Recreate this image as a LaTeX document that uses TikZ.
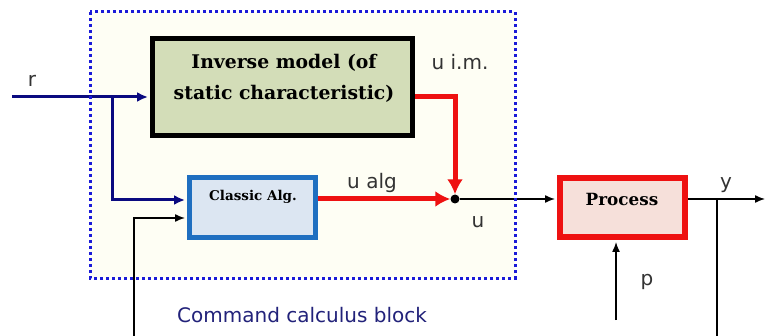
\documentclass[tikz,border=0pt]{standalone}
\usepackage{fontspec}
\newfontfamily\labfont{DejaVu Sans}
\newfontfamily\boxfont{DejaVu Serif}
\usetikzlibrary{arrows.meta}
\definecolor{navy}{HTML}{0A0A80}
\definecolor{dotblue}{HTML}{1A1AD8}
\definecolor{invfill}{HTML}{D3DDB8}
\definecolor{clsfill}{HTML}{DCE6F2}
\definecolor{clsdraw}{HTML}{1F6FC0}
\definecolor{procfill}{HTML}{F6E0DA}
\definecolor{procdraw}{HTML}{EE1111}
\definecolor{labgray}{HTML}{333333}
\definecolor{cmdblue}{HTML}{22227A}
\definecolor{cream}{HTML}{FEFEF4}
\tikzset{
  box/.style={draw, rectangle, inner sep=0pt},
  boxtext/.style 2 args={font=\boxfont\bfseries\fontsize{#1}{#2}\selectfont, align=center, inner sep=0pt},
  lab/.style={font=\labfont\fontsize{20}{24}\selectfont, text=labgray, inner sep=0pt},
  navyarrow/.style={draw=navy, line width=3pt, -{Latex[length=11pt,width=10pt]}, shorten >=2pt},
  redarrow/.style={draw=procdraw, line width=5pt, line join=miter, -{Latex[length=15pt,width=16pt]}},
  blkarrow/.style={draw=black, line width=1.4pt, -{Latex[length=10pt,width=8pt]}, shorten >=2pt},
  blkline/.style={draw=black, line width=1.4pt},
}
\begin{document}
\begin{tikzpicture}[x=1pt,y=-1pt]
\useasboundingbox (0,0) rectangle (767,336);
\fill[white] (0,0) rectangle (767,336);
\fill[cream] (90,12) rectangle (515,278);
% blocks
\node[box, draw=black, line width=5pt, fill=invfill, minimum width=260pt, minimum height=97pt] (inv) at (282.5,87) {};
\node[boxtext={18.8}{31}] (invtxt) at (284,78) {Inverse model (of\\static characteristic)};
\node[box, draw=clsdraw, line width=5pt, fill=clsfill, minimum width=126pt, minimum height=60pt] (cls) at (252.5,207.5) {};
\node[boxtext={13.5}{16}] (clstxt) at (253,197) {Classic Alg.};
\node[box, draw=procdraw, line width=6pt, fill=procfill, minimum width=125pt, minimum height=59pt] (proc) at (622.5,207.5) {};
\node[boxtext={16.8}{20}] (proctxt) at (622,199) {Process};
\node[circle, fill=black, inner sep=0pt, minimum size=9pt] (j) at (455,199) {};
% coordinates
\coordinate (rin) at (12,97);
\coordinate (rbr) at (112,97);
\coordinate (rdown) at (112,200);
\coordinate (fbin) at (134,218);
\coordinate (fbbot) at (134,336);
\coordinate (imc) at (455,97);
\coordinate (ybr) at (717,199);
\coordinate (yout) at (767,199);
\coordinate (ybot) at (717,336);
\coordinate (pin) at (616,320);
% connectors
\draw[navyarrow] (rin) -- (inv.west |- rin);
\draw[navyarrow] (rbr) -- (rdown) -- (cls.west |- rdown);
\draw[blkarrow] (fbbot) -- (fbin) -- (cls.west |- fbin);
\draw[redarrow] (cls.east |- j) -- (j);
\draw[redarrow] (inv.east |- imc) -- (imc) -- (j);
\draw[blkarrow] (j) -- (proc.west |- j);
\draw[blkarrow] (proc.east |- j) -- (yout);
\draw[blkline] (ybr) -- (ybot);
\draw[blkarrow] (pin) -- (proc.south -| pin);
% dotted block
\draw[dotblue, line width=3pt, dash pattern=on 3pt off 3pt] (90,12) rectangle (515,278);
% labels
\node[lab] (lr) at (32,81) {r};
\node[lab] (lualg) at (372,183) {u alg};
\node[lab] (luim) at (460,62) {u i.m.};
\node[lab] (lu) at (478,222) {u};
\node[lab] (ly) at (726,185) {y};
\node[lab] (lp) at (647,282) {p};
\node[font=\labfont\fontsize{20}{24}\selectfont, text=cmdblue, inner sep=0pt] (cmd) at (302,315) {Command calculus block};
\end{tikzpicture}
\end{document}
